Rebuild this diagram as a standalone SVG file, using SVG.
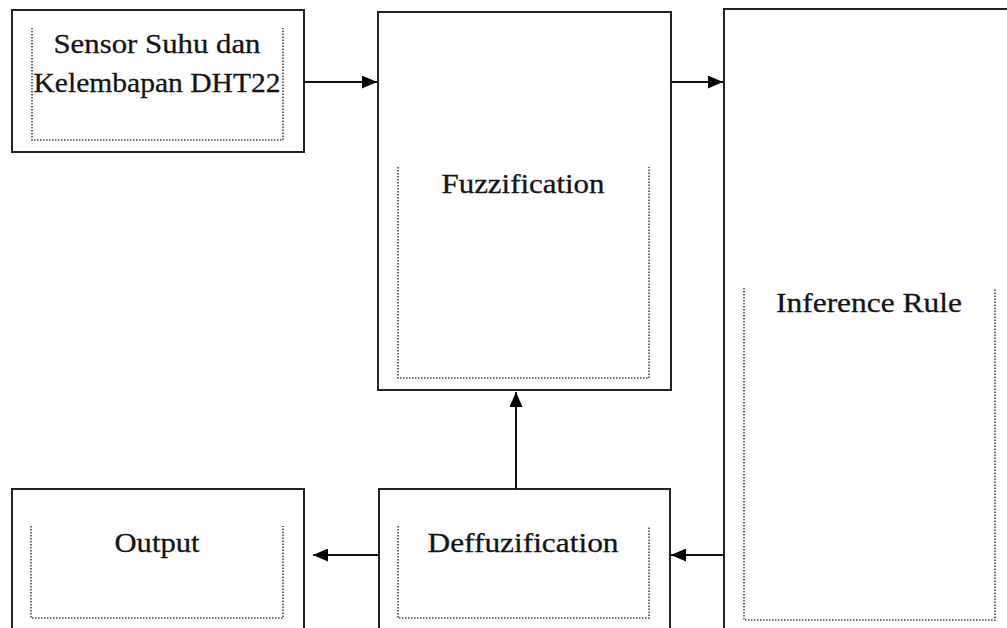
<svg xmlns="http://www.w3.org/2000/svg" width="1007" height="628" viewBox="0 0 1007 628">
<style>
.box{fill:#fff;stroke:#222;stroke-width:2}
.dot{fill:none;stroke:#444;stroke-width:1.6;stroke-dasharray:1.5 1.5}
.lbl{font-family:'Liberation Serif', 'Times New Roman', Times, serif;font-size:28px;fill:#141414;stroke:#141414;stroke-width:0.3;text-anchor:middle}
.conn{stroke:#111;stroke-width:2;fill:none}
</style>
<defs>
<marker id="ah" markerUnits="userSpaceOnUse" markerWidth="16" markerHeight="13" refX="15" refY="6.5" orient="auto">
<path d="M0,0 L15,6.5 L0,13 z" fill="#000"/>
</marker>
</defs>
<rect width="1007" height="628" fill="#fff"/>
<g id="sensor">
<rect class="box" x="12" y="10" width="292" height="142"/>
<path class="dot" d="M32,28 V140 H283 V28"/>
<text class="lbl" x="157" y="53" textLength="207" lengthAdjust="spacingAndGlyphs">Sensor Suhu dan</text>
<text class="lbl" x="157" y="92" textLength="247" lengthAdjust="spacingAndGlyphs">Kelembapan DHT22</text>
</g>
<g id="fuzzification">
<rect class="box" x="378" y="12" width="293" height="378"/>
<path class="dot" d="M398,167 V378 H649 V167"/>
<text class="lbl" x="523" y="193" textLength="163" lengthAdjust="spacingAndGlyphs">Fuzzification</text>
</g>
<g id="inference">
<rect class="box" x="724" y="9" width="300" height="640"/>
<path class="dot" d="M744,288 V620 H995 V288"/>
<text class="lbl" x="869" y="312" textLength="186" lengthAdjust="spacingAndGlyphs">Inference Rule</text>
</g>
<g id="output">
<rect class="box" x="12" y="489" width="292" height="160"/>
<path class="dot" d="M31,526 V618 H283 V526"/>
<text class="lbl" x="157" y="552" textLength="85" lengthAdjust="spacingAndGlyphs">Output</text>
</g>
<g id="deffuzification">
<rect class="box" x="379" y="489" width="291" height="160"/>
<path class="dot" d="M398,526 V618 H649 V526"/>
<text class="lbl" x="523" y="552" textLength="191" lengthAdjust="spacingAndGlyphs">Deffuzification</text>
</g>
<g id="connectors">
<line class="conn" x1="304" y1="82" x2="377" y2="82" marker-end="url(#ah)"/>
<line class="conn" x1="671" y1="82" x2="723" y2="82" marker-end="url(#ah)"/>
<line class="conn" x1="516" y1="489" x2="516" y2="392" marker-end="url(#ah)"/>
<line class="conn" x1="724" y1="555" x2="671" y2="555" marker-end="url(#ah)"/>
<line class="conn" x1="379" y1="555" x2="313" y2="555" marker-end="url(#ah)"/>
</g>
</svg>
